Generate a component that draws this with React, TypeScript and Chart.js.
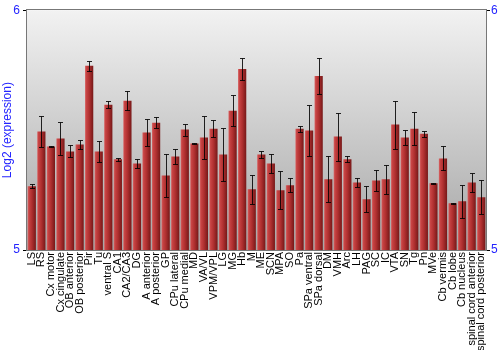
import React, { useEffect, useRef } from "react";
import { Chart, registerables } from "chart.js";

Chart.register(...registerables);

const regions = [
  "LS", "RS", "Cx motor", "Cx cingulate", "OB anterior", "OB posterior", "Pir", "Tu",
  "ventral S", "CA1", "CA2/CA3", "DG", "A anterior", "A posterior", "GP", "CPu lateral",
  "CPu medial", "MD", "VA/VL", "VPM/VPL", "LG", "MG", "Hb", "M", "ME", "SCN", "MPA", "SO",
  "Pa", "SPa ventral", "SPa dorsal", "DM", "VMH", "Arc", "LH", "PAG", "SC", "IC", "VTA",
  "SN", "Tg", "Pn", "MVe", "Cb vermis", "Cb lobe", "Cb nucleus", "spinal cord anterior",
  "spinal cord posterior",
];

const expression = [
  5.266, 5.494, 5.432, 5.465, 5.411, 5.44, 5.768, 5.411,
  5.606, 5.378, 5.622, 5.361, 5.49, 5.531, 5.311, 5.39,
  5.502, 5.444, 5.469, 5.506, 5.398, 5.581, 5.755, 5.253, 5.398, 5.361, 5.249, 5.27,
  5.506, 5.498, 5.726, 5.295, 5.473, 5.378, 5.282, 5.212, 5.29, 5.295, 5.523,
  5.469, 5.506, 5.485, 5.278, 5.382, 5.195, 5.203, 5.282,
  5.22,
];

const errors = [
  0.008, 0.065, 0.003, 0.07, 0.025, 0.02, 0.022, 0.045,
  0.015, 0.005, 0.04, 0.02, 0.058, 0.022, 0.088, 0.03,
  0.025, 0.003, 0.09, 0.035, 0.11, 0.065, 0.045, 0.06, 0.015, 0.04, 0.08, 0.03,
  0.012, 0.105, 0.075, 0.095, 0.1, 0.012, 0.02, 0.055, 0.045, 0.06, 0.1,
  0.033, 0.07, 0.012, 0.003, 0.05, 0.003, 0.07, 0.04,
  0.07,
];

const yTicks = [5, 6];

const BLUE = "#2424ff";

const backgroundPlugin = {
  id: "bgGradient",
  beforeDatasetsDraw(chart: any) {
    const { ctx, chartArea } = chart;
    if (!chartArea) return;
    const g = ctx.createLinearGradient(0, chartArea.top, 0, chartArea.bottom);
    g.addColorStop(0, "#f2f2f2");
    g.addColorStop(1, "#a6a6a6");
    ctx.save();
    ctx.fillStyle = g;
    ctx.fillRect(chartArea.left, chartArea.top, chartArea.right - chartArea.left, chartArea.bottom - chartArea.top);
    ctx.strokeStyle = "#777777";
    ctx.lineWidth = 1;
    ctx.strokeRect(
      Math.round(chartArea.left) - 0.5,
      Math.round(chartArea.top) - 0.5,
      Math.round(chartArea.right - chartArea.left) + 1,
      Math.round(chartArea.bottom - chartArea.top) + 1
    );
    ctx.restore();
  },
};

const errorBarPlugin = {
  id: "errorBars",
  afterDatasetsDraw(chart: any) {
    const { ctx } = chart;
    const xs = chart.scales.x;
    const ys = chart.scales.y;
    ctx.save();
    ctx.strokeStyle = "rgba(0,0,0,0.85)";
    ctx.lineWidth = 1;
    expression.forEach((v, i) => {
      const e = errors[i];
      const x = Math.round(xs.getPixelForValue(i)) + 0.5;
      const yTop = Math.round(ys.getPixelForValue(v + e)) + 0.5;
      const yBot = Math.round(ys.getPixelForValue(v - e)) + 0.5;
      ctx.beginPath();
      ctx.moveTo(x, yTop);
      ctx.lineTo(x, yBot);
      ctx.moveTo(x - 2.5, yTop);
      ctx.lineTo(x + 2.5, yTop);
      ctx.moveTo(x - 2.5, yBot);
      ctx.lineTo(x + 2.5, yBot);
      ctx.stroke();
    });
    ctx.restore();
  },
};

export default function App() {
  const canvasRef = useRef<HTMLCanvasElement | null>(null);

  useEffect(() => {
    document.body.style.margin = "0";
    const canvas = canvasRef.current;
    if (!canvas) return;
    const barColor = (c: any) => {
      const chart = c.chart;
      const area = chart.chartArea;
      const xs = chart.scales && chart.scales.x;
      if (!area || !xs || c.type !== "data") return "#b03030";
      const px = xs.getPixelForValue(c.dataIndex);
      const w = ((area.right - area.left) / regions.length) * 0.86;
      const g = chart.ctx.createLinearGradient(px - w / 2, 0, px + w / 2, 0);
      g.addColorStop(0, "#d86a6a");
      g.addColorStop(0.15, "#c84444");
      g.addColorStop(0.5, "#b03030");
      g.addColorStop(1, "#761818");
      return g;
    };
    const chart = new Chart(canvas, {
      type: "bar",
      data: {
        labels: regions,
        datasets: [
          {
            data: expression,
            backgroundColor: barColor,
            borderWidth: 0,
            barPercentage: 0.86,
            categoryPercentage: 1,
            yAxisID: "y",
          },
        ],
      },
      options: {
        animation: false,
        responsive: false,
        maintainAspectRatio: false,
        layout: { padding: { top: 9, left: 0, right: 0, bottom: 0 } },
        plugins: {
          legend: { display: false },
          tooltip: { enabled: false },
        },
        scales: {
          x: {
            grid: { display: false, drawTicks: false },
            border: { display: false },
            ticks: {
              autoSkip: false,
              minRotation: 90,
              maxRotation: 90,
              padding: 2,
              color: "#000",
              font: { family: "Liberation Sans, Arial, sans-serif", size: 11 },
            },
            afterFit: (s: any) => {
              s.height = 100;
            },
          },
          y: {
            position: "left",
            min: 5,
            max: 6,
            afterBuildTicks: (s: any) => {
              s.ticks = yTicks.map((v) => ({ value: v }));
            },
            grid: { drawOnChartArea: false, drawTicks: true, tickLength: 4, color: "#000" },
            border: { display: false },
            ticks: {
              color: BLUE,
              padding: 3,
              font: { family: "Liberation Sans, Arial, sans-serif", size: 12 },
            },
            title: {
              display: true,
              text: "Log2 (expression)",
              color: BLUE,
              padding: 0,
              font: { family: "Liberation Sans, Arial, sans-serif", size: 12 },
            },
            afterFit: (s: any) => {
              s.width = 27;
            },
          },
          y2: {
            position: "right",
            min: 5,
            max: 6,
            afterBuildTicks: (s: any) => {
              s.ticks = yTicks.map((v) => ({ value: v }));
            },
            grid: { drawOnChartArea: false, drawTicks: true, tickLength: 4, color: "#000" },
            border: { display: false },
            ticks: {
              color: BLUE,
              padding: 1,
              font: { family: "Liberation Sans, Arial, sans-serif", size: 12 },
            },
            afterFit: (s: any) => {
              s.width = 14;
            },
          },
        },
      },
      plugins: [backgroundPlugin, errorBarPlugin],
    });
    return () => chart.destroy();
  }, []);

  return (
    <div style={{ position: "fixed", left: 0, top: 0, width: 500, height: 350, background: "#fff" }}>
      <canvas ref={canvasRef} width={500} height={350} style={{ width: 500, height: 350 }} />
    </div>
  );
}
